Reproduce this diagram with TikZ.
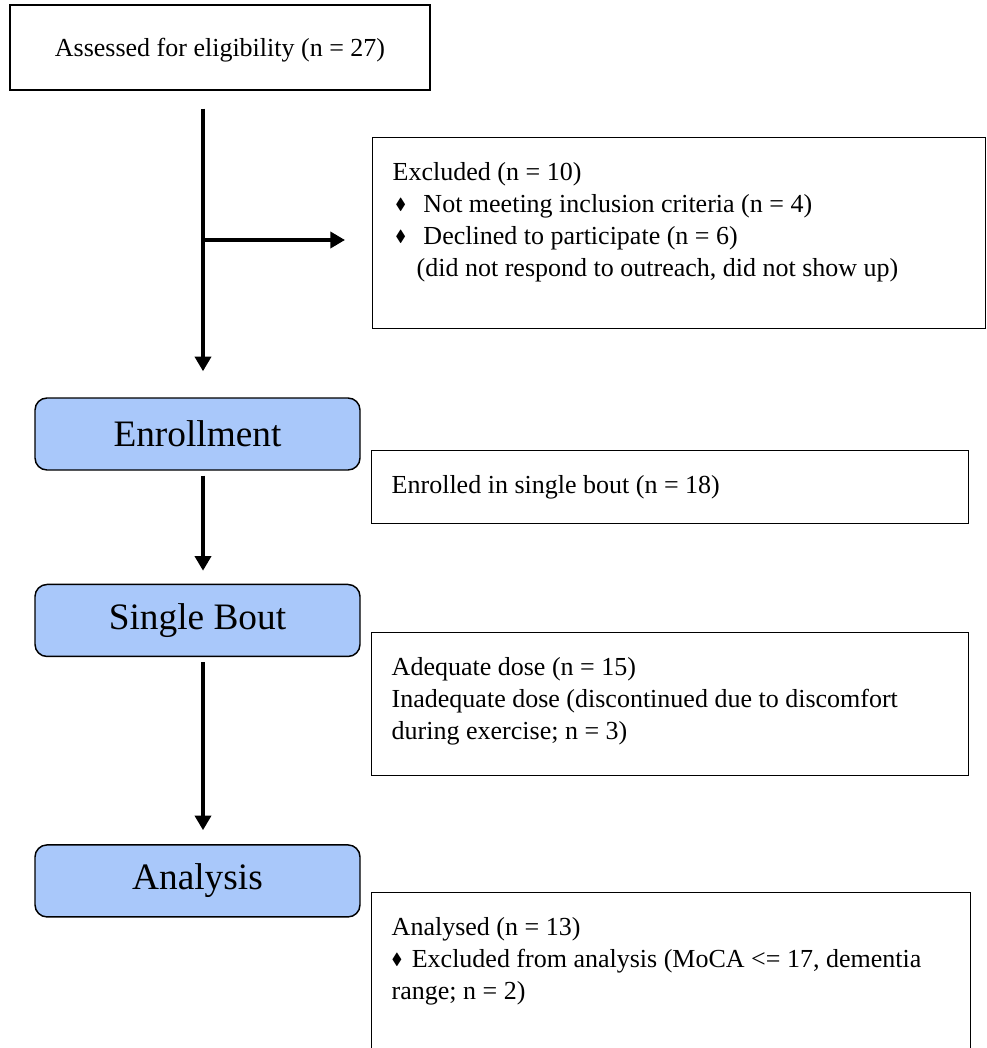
\documentclass[tikz,border=0pt]{standalone}
\usepackage{amssymb}
\usepackage{fontspec}
\setmainfont{Liberation Serif}
\usepackage{tikz}
\usetikzlibrary{arrows.meta,positioning}
\definecolor{sblue}{HTML}{A9C8FA}
\newcommand{\dia}{\raisebox{.25ex}{\scalebox{.62}{$\blacklozenge$}}}

\begin{document}
\begin{tikzpicture}[x=0.75pt,y=-0.75pt,
  txt/.style={font=\fontsize{19.5}{24}\selectfont},
  box/.style={draw=black,line width=1.1pt,txt,align=flush left,anchor=north west,inner xsep=15pt,inner ysep=18pt,text height=14.25pt},
  stage/.style={draw=black,line width=1.1pt,fill=sblue,rounded corners=9pt,minimum width=243.75pt,minimum height=54pt,inner sep=0pt,font=\fontsize{28}{34}\selectfont},
  arr/.style={-{Triangle[length=11pt,width=12pt]},line width=3pt}]
  \useasboundingbox (0,0) rectangle (986,1048);
  % screening
  \node[draw=black,line width=1.1pt,txt,minimum width=315pt,minimum height=63.75pt,inner sep=0pt,text depth=0pt] (assess) at (220,47.5) {Assessed for eligibility (n = 27)};
  \node[box,text width=429.75pt,text depth=93pt] (excl) at (372,137) {Excluded (n = 10)\\
    \hspace*{2pt}\dia\hspace{13pt}Not meeting inclusion criteria (n = 4)\\
    \hspace*{2pt}\dia\hspace{13pt}Declined to participate (n = 6)\\
    \hspace*{18pt}(did not respond to outreach, did not show up)};
  % stages
  \node[stage] (enroll) at (197.5,434) {Enrollment};
  \node[stage,below=84.75pt of enroll] (single) {Single Bout};
  \node[stage,below=140.25pt of single] (analysis) {Analysis};
  % side notes
  \node[box,text width=417.75pt,text depth=4.5pt] (enrolled) at (371,450) {Enrolled in single bout (n = 18)};
  \node[box,text width=417.75pt,text depth=57pt] (dose) at (371,632) {Adequate dose (n = 15)\\
    Inadequate dose (discontinued due to discomfort\\
    during exercise; n = 3)};
  \node[box,text width=419.25pt,text depth=79.5pt] (analysed) at (371,892) {Analysed (n = 13)\\
    \dia\hspace{7pt}Excluded from analysis (MoCA <= 17, dementia\\
    range; n = 2)};
  % arrows
  \coordinate (spine) at (203,0);
  \coordinate (fork) at (203,240);
  \draw[arr,shorten <=13.5pt,shorten >=19.5pt] (assess.south -| spine) -- (enroll.north -| spine);
  \draw[arr,shorten >=20.25pt] (fork) -- (fork -| excl.west);
  \draw[arr,shorten <=3.75pt,shorten >=9.75pt] (enroll.south -| spine) -- (single.north -| spine);
  \draw[arr,shorten <=3.75pt,shorten >=10.5pt] (single.south -| spine) -- (analysis.north -| spine);
\end{tikzpicture}
\end{document}
